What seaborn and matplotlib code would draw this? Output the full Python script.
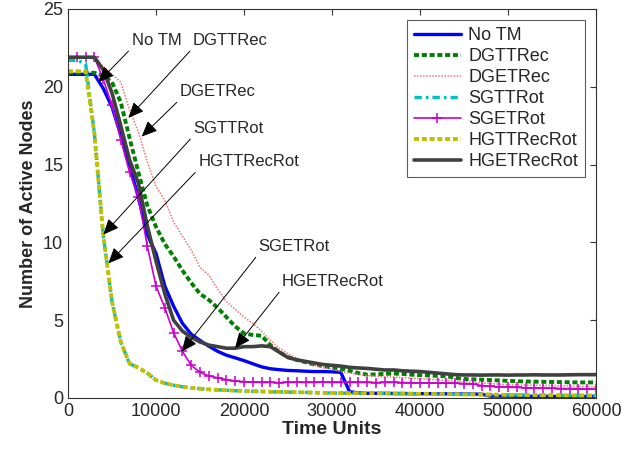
import numpy as np
import pandas as pd
import seaborn as sns
import matplotlib
matplotlib.use("Agg")
import matplotlib.pyplot as plt

# time axis, sampled every 1000 units
time_units = list(range(0, 60001, 1000))

no_tm = [20.8, 20.8, 20.8, 20.8, 19.9, 18.7, 16.9, 14.9, 12.9, 10.5,
         9.3, 7.2, 5.9, 4.8, 4.1, 3.7, 3.33, 3.0, 2.75, 2.58,
         2.4, 2.2, 2.0, 1.88, 1.82, 1.77, 1.75, 1.72, 1.7, 1.7,
         1.68, 1.65, 0.4, 0.33, 0.3, 0.3, 0.3, 0.29, 0.29, 0.28,
         0.28, 0.28, 0.27, 0.27, 0.26, 0.26, 0.25, 0.25, 0.12, 0.12,
         0.12, 0.11, 0.11, 0.11, 0.11, 0.1, 0.1, 0.1, 0.1, 0.1, 0.1]

dgttrec = [20.9, 20.9, 20.9, 20.9, 20.7, 20.3, 19.0, 16.7, 14.5, 12.4,
           11.0, 9.9, 9.1, 8.2, 7.4, 6.7, 6.3, 5.8, 5.2, 4.6,
           4.15, 4.05, 4.0, 3.4, 2.95, 2.62, 2.45, 2.3, 2.15, 2.05,
           1.95, 1.88, 1.75, 1.6, 1.5, 1.52, 1.55, 1.57, 1.55, 1.5,
           1.47, 1.45, 1.42, 1.4, 1.3, 1.22, 1.2, 1.18, 1.15, 1.13,
           1.1, 1.08, 1.06, 1.05, 1.04, 1.03, 1.02, 1.01, 1.0, 1.0, 1.0]

dgetrec = [21.9, 21.9, 21.9, 21.9, 21.3, 20.8, 20.3, 18.5, 17.1, 15.2,
           13.6, 12.7, 11.3, 10.4, 9.5, 8.4, 7.9, 7.0, 6.2, 5.7,
           5.2, 4.8, 4.3, 3.7, 3.2, 2.85, 2.55, 2.3, 2.1, 1.95,
           1.85, 1.7, 1.6, 1.52, 1.45, 1.4, 1.37, 1.34, 1.31, 1.28,
           1.25, 1.21, 1.17, 1.13, 1.09, 1.05, 1.01, 0.97, 0.93, 0.89,
           0.85, 0.84, 0.83, 0.82, 0.81, 0.8, 0.78, 0.77, 0.75, 0.74, 0.72]

sgttrot = [21.7, 21.7, 21.5, 17.0, 10.5, 6.2, 3.6, 2.2, 1.95, 1.6,
           1.15, 0.95, 0.82, 0.72, 0.65, 0.6, 0.55, 0.52, 0.5, 0.47,
           0.45, 0.43, 0.42, 0.4, 0.39, 0.38, 0.37, 0.36, 0.34, 0.33,
           0.32, 0.32, 0.31, 0.31, 0.3, 0.3, 0.29, 0.28, 0.27, 0.27,
           0.26, 0.26, 0.25, 0.25, 0.24, 0.23, 0.23, 0.22, 0.22, 0.21,
           0.2, 0.2, 0.19, 0.19, 0.18, 0.18, 0.17, 0.17, 0.16, 0.16, 0.15]

sgetrot = [21.9, 21.9, 21.9, 21.9, 20.5, 18.8, 16.6, 14.5, 12.9, 9.8,
           7.2, 5.8, 4.2, 3.0, 2.1, 1.65, 1.42, 1.3, 1.18, 1.1,
           1.05, 1.02, 1.0, 1.0, 0.99, 1.0, 1.01, 1.0, 1.0, 1.01,
           1.0, 1.0, 1.01, 1.0, 1.0, 0.99, 1.0, 1.0, 0.99, 0.98,
           0.97, 0.96, 0.95, 0.95, 0.95, 0.93, 0.9, 0.8, 0.75, 0.72,
           0.7, 0.68, 0.66, 0.65, 0.64, 0.62, 0.61, 0.6, 0.59, 0.58, 0.58]

hgttrecrot = [21.0, 21.0, 21.0, 17.0, 10.5, 6.2, 3.6, 2.2, 1.95, 1.6,
              1.15, 0.95, 0.82, 0.72, 0.65, 0.6, 0.55, 0.52, 0.5, 0.47,
              0.45, 0.43, 0.42, 0.4, 0.39, 0.38, 0.37, 0.36, 0.34, 0.33,
              0.32, 0.32, 0.31, 0.31, 0.3, 0.3, 0.29, 0.28, 0.27, 0.27,
              0.26, 0.26, 0.25, 0.25, 0.24, 0.23, 0.23, 0.22, 0.22, 0.21,
              0.2, 0.2, 0.19, 0.19, 0.18, 0.18, 0.17, 0.17, 0.16, 0.16, 0.15]

hgetrecrot = [21.9, 21.9, 21.9, 21.9, 21.1, 19.6, 17.5, 15.3, 13.8, 11.1,
              8.8, 6.7, 5.0, 4.3, 3.9, 3.6, 3.4, 3.3, 3.2, 3.2,
              3.3, 3.3, 3.35, 3.3, 2.95, 2.6, 2.45, 2.35, 2.25, 2.15,
              2.1, 2.05, 1.97, 1.93, 1.9, 1.85, 1.8, 1.8, 1.75, 1.72,
              1.7, 1.65, 1.6, 1.55, 1.5, 1.48, 1.48, 1.47, 1.48, 1.48,
              1.47, 1.48, 1.48, 1.49, 1.48, 1.48, 1.48, 1.49, 1.5, 1.5, 1.5]

series_names = ["No TM", "DGTTRec", "DGETRec", "SGTTRot",
                "SGETRot", "HGTTRecRot", "HGETRecRot"]
series_values = [no_tm, dgttrec, dgetrec, sgttrot, sgetrot, hgttrecrot, hgetrecrot]

# label text, arrow tip (x, y), text anchor (x, y)
annotations = [
    ("No TM", (3450, 20.3), (7240, 22.5)),
    ("DGTTRec", (6860, 18.0), (14200, 22.5)),
    ("DGETRec", (8370, 16.8), (12730, 19.2)),
    ("SGTTRot", (4010, 10.5), (14240, 16.85)),
    ("HGTTRecRot", (4580, 8.65), (14810, 14.7)),
    ("SGETRot", (12920, 2.98), (21630, 9.25)),
    ("HGETRecRot", (18980, 3.2), (24280, 7.0)),
]

styles = {
    "No TM":      dict(color="#0000ff", linestyle="-", linewidth=2.4),
    "DGTTRec":    dict(color="#008000", linestyle=(0, (1.3, 0.7)), linewidth=2.8),
    "DGETRec":    dict(color="#f07070", linestyle=(0, (1, 1)), linewidth=1.1),
    "SGTTRot":    dict(color="#00c0c0", linestyle=(0, (2.2, 1.2, 0.8, 1.2)), linewidth=2.4),
    "SGETRot":    dict(color="#cc00cc", linestyle="-", linewidth=1.2,
                       marker="+", markersize=7, markeredgewidth=1.1,
                       markeredgecolor="#cc00cc"),
    "HGTTRecRot": dict(color="#c0c000", linestyle=(0, (1.3, 0.7)), linewidth=2.8),
    "HGETRecRot": dict(color="#404040", linestyle="-", linewidth=2.6),
}

sns.set_style("white")
plt.rcParams["font.family"] = ["Liberation Sans", "DejaVu Sans"]

fig, ax = plt.subplots(figsize=(6.39, 4.49), dpi=100)
fig.subplots_adjust(left=0.1064, right=0.9327, bottom=0.1136, top=0.98)

for name, vals in zip(series_names, series_values):
    df = pd.DataFrame({"t": time_units, "n": vals})
    sns.lineplot(data=df, x="t", y="n", ax=ax, label=name, **styles[name])

for text, tip, anchor in annotations:
    ax.annotate(text, xy=tip, xytext=anchor, ha="left", va="bottom",
                fontsize=12,
                arrowprops=dict(arrowstyle="-|>,head_length=0.8,head_width=0.35",
                                color="black", lw=0.7, shrinkA=0, shrinkB=0,
                                relpos=(0, 0)))

ax.set_xlim(0, 60000)
ax.set_ylim(0, 25)
ax.set_xticks([0, 10000, 20000, 30000, 40000, 50000, 60000])
ax.set_yticks([0, 5, 10, 15, 20, 25])
ax.tick_params(direction="in", top=True, right=True, labelsize=13, length=4,
               color="#333333")
for s in ax.spines.values():
    s.set_color("#333333")
    s.set_linewidth(0.8)

ax.set_xlabel("Time Units", fontsize=14, fontweight="bold", labelpad=1)
ax.set_ylabel("Number of Active Nodes", fontsize=13, fontweight="bold", labelpad=4)

leg = ax.legend(loc="upper right", fontsize=13, frameon=True, fancybox=False,
                handlelength=2.6, labelspacing=0.22, borderpad=0.4,
                borderaxespad=0.6, handletextpad=0.4, numpoints=1)
leg.get_frame().set_edgecolor("#333333")
leg.get_frame().set_linewidth(0.8)

fig.savefig("out.png", dpi=100)
